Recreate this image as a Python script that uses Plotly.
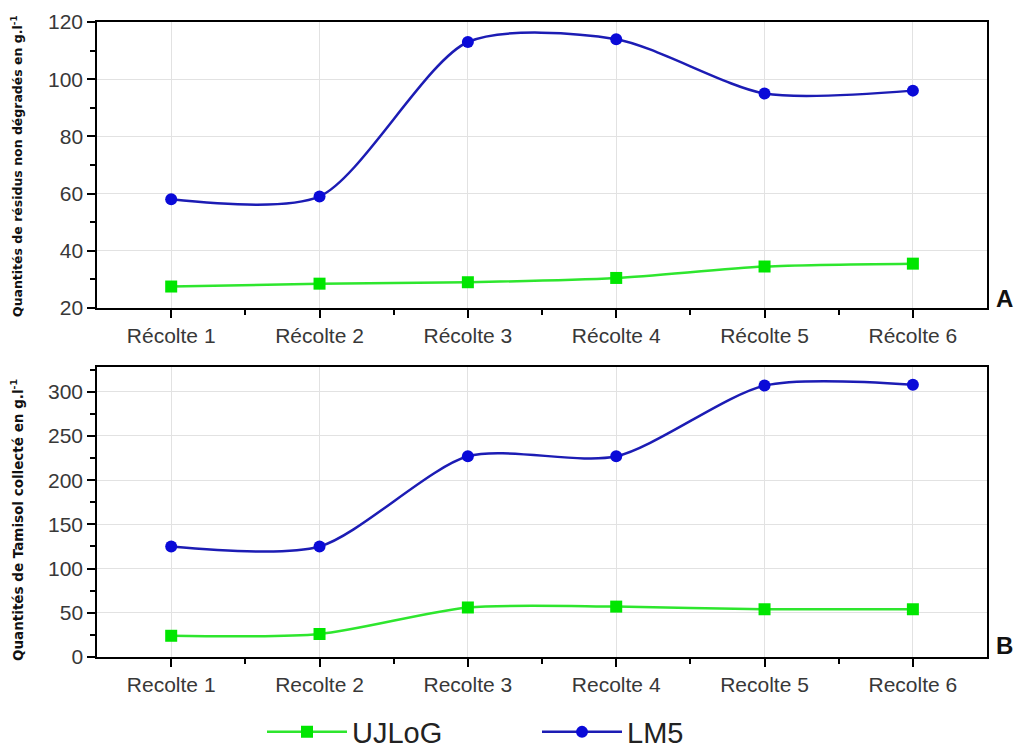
import plotly.graph_objects as go

cats_top = ["Récolte 1", "Récolte 2", "Récolte 3", "Récolte 4", "Récolte 5", "Récolte 6"]
cats_bot = ["Recolte 1", "Recolte 2", "Recolte 3", "Recolte 4", "Recolte 5", "Recolte 6"]

ujlog_top = [27.5, 28.5, 29, 30.5, 34.5, 35.5]
lm5_top = [58, 59, 113, 114, 95, 96]

ujlog_bot = [24, 26, 56, 57, 54, 54]
lm5_bot = [125, 125, 227, 227, 307, 308]

GREEN_LINE = "#2ee62e"
GREEN_MK = "#00e600"
BLUE_LINE = "#1c1cb4"
BLUE_MK = "#0a0ad8"

xs = list(range(len(cats_top)))

fig = go.Figure()

def add(x, y, xa, ya, name, lc, mc, sym, show):
    fig.add_trace(go.Scatter(
        x=x, y=y, xaxis=xa, yaxis=ya, name=name, mode="lines+markers",
        line=dict(color=lc, width=2.5, shape="spline", smoothing=0.75),
        marker=dict(color=mc, size=12, symbol=sym),
        showlegend=show, legendgroup=name))

add(xs, ujlog_top, "x", "y", "UJLoG", GREEN_LINE, GREEN_MK, "square", True)
add(xs, lm5_top, "x", "y", "LM5", BLUE_LINE, BLUE_MK, "circle", True)
add(xs, ujlog_bot, "x2", "y2", "UJLoG", GREEN_LINE, GREEN_MK, "square", False)
add(xs, lm5_bot, "x2", "y2", "LM5", BLUE_LINE, BLUE_MK, "circle", False)

FONT = "Liberation Sans, Arial, sans-serif"
tickfont = dict(family=FONT, size=21, color="#383838")

def xaxis(dom_anchor, ticktext):
    return dict(
        domain=[0.0955, 0.9715], anchor=dom_anchor, range=[-0.5, 5.5], automargin=False,
        tickvals=xs, ticktext=ticktext, ticks="outside", ticklen=8, tickwidth=1.5,
        tickcolor="black", showline=True, linecolor="black", linewidth=1.5, mirror=True,
        showgrid=True, gridcolor="#e2e2e2", gridwidth=1, zeroline=False,
        tickfont=tickfont,
        minor=dict(tickvals=[0.5, 1.5, 2.5, 3.5, 4.5], ticks="outside", ticklen=5,
                   tickwidth=1.5, tickcolor="black", showgrid=False),
    )

def yaxis(dom, anchor, rng, dtick, minor_dtick):
    return dict(
        domain=dom, anchor=anchor, range=rng, dtick=dtick, tick0=0, automargin=False,
        ticks="outside", ticklen=8, tickwidth=1.5, tickcolor="black",
        showline=True, linecolor="black", linewidth=1.5, mirror=True,
        showgrid=True, gridcolor="#e2e2e2", gridwidth=1, zeroline=False,
        tickfont=dict(family=FONT, size=21, color="#383838"),
        minor=dict(dtick=minor_dtick, tick0=0, ticks="outside", ticklen=5, tickwidth=1.5,
                   tickcolor="black", showgrid=False),
    )

fig.update_layout(
    width=1016, height=753,
    margin=dict(l=0, r=0, t=0, b=0, autoexpand=False),
    paper_bgcolor="white", plot_bgcolor="white",
    xaxis=xaxis("y", cats_top),
    yaxis=yaxis([0.591, 0.9708], "x", [20, 120], 20, 10),
    xaxis2=xaxis("y2", cats_bot),
    yaxis2=yaxis([0.1275, 0.5126], "x2", [0, 328], 50, 25),
    legend=dict(orientation="h", x=262 / 1016, y=-0.006, xanchor="left", yanchor="bottom",
                font=dict(family=FONT, size=29, color="#222222"),
                itemwidth=80, entrywidth=180, bgcolor="rgba(0,0,0,0)"),
    showlegend=True,
)

ytitle_font = dict(family="DejaVu Sans, sans-serif", size=12.5, color="#111111")
fig.add_annotation(text="<b>Quantités de résidus non dégradés en g.l<sup>-1</sup></b>",
                   xref="paper", yref="paper", x=17 / 1016, y=1 - 166 / 753,
                   textangle=-90, showarrow=False, font=ytitle_font,
                   xanchor="center", yanchor="middle")
fig.add_annotation(text="<b>Quantités de Tamisol collecté en g.l<sup>-1</sup></b>",
                   xref="paper", yref="paper", x=17 / 1016, y=1 - 520 / 753,
                   textangle=-90, showarrow=False, font=dict(ytitle_font, size=13.5),
                   xanchor="center", yanchor="middle")
letter_font = dict(family=FONT, size=24, color="#111111")
fig.add_annotation(text="<b>A</b>", xref="paper", yref="paper", x=1004 / 1016, y=1 - 298 / 753,
                   showarrow=False, font=letter_font, xanchor="center", yanchor="middle")
fig.add_annotation(text="<b>B</b>", xref="paper", yref="paper", x=1004 / 1016, y=1 - 645 / 753,
                   showarrow=False, font=letter_font, xanchor="center", yanchor="middle")

fig.write_html("out.html")
